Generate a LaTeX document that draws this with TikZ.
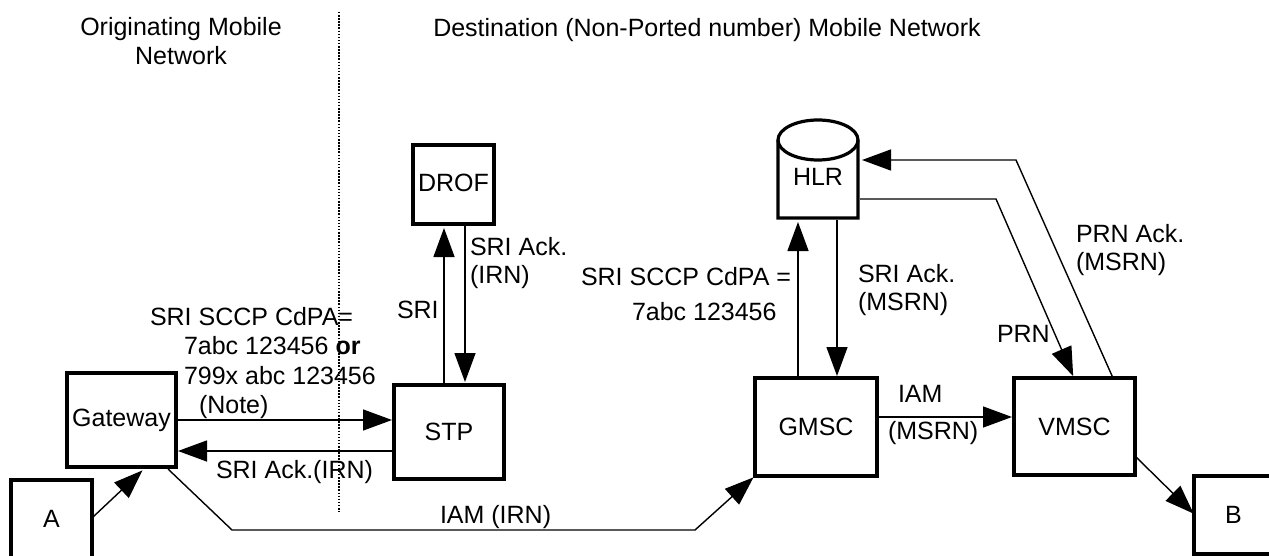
\documentclass[tikz,border=0pt]{standalone}
\usepackage{fontspec}
\setmainfont{Liberation Sans}
\usetikzlibrary{arrows.meta}
\tikzset{
  x=1pt,y=-1pt,
  every node/.style={font=\fontsize{25}{28.5}\selectfont,inner sep=0pt,outer sep=0pt},
  boxed/.style={draw=black,line width=3.2pt,fill=white,anchor=north west,align=center},
  conn/.style={draw=black,line width=1.4pt,-{Triangle[length=29pt,width=21pt]},shorten >=2pt},
  plain/.style={draw=black,line width=1.4pt},
  lbl/.style={anchor=center,align=center},
  lbll/.style={anchor=west,align=left}
}
\begin{document}
\begin{tikzpicture}
\useasboundingbox (0,0) rectangle (1269,556);
% dotted divider
\coordinate (dt) at (339,12); \coordinate (db) at (339,512);
\draw[line width=1.4pt,dash pattern=on 1.5pt off 1.6pt] (dt) -- (db);
% boxes
\node[boxed,minimum width=109pt,minimum height=94pt] (gw) at (67,373) {Gateway};
\node[boxed,minimum width=110pt,minimum height=94pt] (stp) at (394,385) {\raisebox{-1pt}{STP}};
\node[boxed,minimum width=81pt,minimum height=79pt] (drof) at (413,145) {\raisebox{3pt}{DROF}};
\node[boxed,minimum width=122pt,minimum height=98pt] (gmsc) at (755,378) {\raisebox{-1pt}{GMSC}};
\node[boxed,minimum width=121pt,minimum height=97pt] (vmsc) at (1014,378) {\raisebox{-1pt}{VMSC}};
\begin{scope}
\clip (0,0) rectangle (1269,556);
\node[boxed,minimum width=81pt,minimum height=84pt] (a) at (11,480) {\raisebox{6pt}{A}};
\node[boxed,minimum width=79pt,minimum height=78pt,text width=79pt,minimum width=79pt] (b) at (1194,476) {B};
\draw[line width=3.2pt] (1194,476) -- (1269,476) (1194,554) -- (1269,554);
\end{scope}
% HLR cylinder
\draw[line width=3.2pt,fill=white] (778,140) arc[start angle=180,end angle=0,x radius=40pt,y radius=20pt]
  -- (858,218) -- (778,218) -- cycle;
\draw[line width=3.2pt] (778,140) arc[start angle=180,end angle=360,x radius=40pt,y radius=20pt];
\node (hlr) at (818,177) {HLR};
\coordinate (hlrb1) at (798,220); \coordinate (hlrb2) at (837,220);
\coordinate (hlrr1) at (860,160); \coordinate (hlrr2) at (860,199);
% connectors
\draw[conn] (444,385) -- (444,226);
\draw[conn] (465,226) -- (465,384);
\draw[conn] (gw.east |- 0,420) -- (stp.west |- 0,420);
\draw[conn] (stp.west |- 0,451) -- (gw.east |- 0,451);
\draw[conn] (93,517) -- (144,469);
\draw[conn] (168,469) -- (232,530) -- (695,530) -- (gmsc.south west);
\draw[conn] (798,378) -- (hlrb1);
\draw[conn] (hlrb2) -- (837,378);
\draw[conn] (gmsc.east |- 0,417) -- (vmsc.west |- 0,417);
\draw[conn] (1136,457) -- (1195,515);
\draw[conn] (hlrr2) -- (996,199) -- (1074,378);
\draw[conn] (1113,378) -- (1016,160) -- (hlrr1);
% labels
\node[lbl] at (181,41) {Originating Mobile\\Network};
\node[lbl] at (707,30) {Destination (Non-Ported number) Mobile Network};
\node[lbll] at (150,317) {SRI SCCP CdPA=};
\node[lbll] at (184,346) {7abc 123456 \textbf{or}};
\node[lbll] at (184,376) {799x abc 123456};
\node[lbll] at (199,407) {(Note)};
\node[lbll] at (216,472) {SRI Ack.(IRN)};
\node[lbll] at (397,310) {SRI};
\node[lbll] at (470,263) {SRI Ack.\\(IRN)};
\node[lbll] at (440,517) {IAM (IRN)};
\node[lbll] at (581,277) {SRI SCCP CdPA =};
\node[lbll] at (632,312) {7abc 123456};
\node[lbll] at (858,290) {SRI Ack.\\(MSRN)};
\node[lbll] at (898,394) {IAM};
\node[lbll] at (888,433) {(MSRN)};
\node[lbll] at (997,334) {PRN};
\node[lbll] at (1076,250) {PRN Ack.\\(MSRN)};
\end{tikzpicture}
\end{document}
